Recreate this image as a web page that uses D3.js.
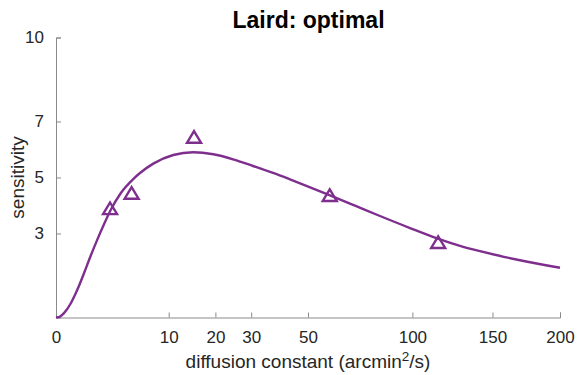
<!DOCTYPE html>
<html>
<head>
<meta charset="utf-8">
<script src="https://cdn.jsdelivr.net/npm/d3@7"></script>
<style>
  body { margin: 0; background: #fff; }
  text { font-family: "Liberation Sans", Arial, Helvetica, sans-serif; }
</style>
</head>
<body>
<div id="chart"></div>
<script>
// fitted curve
const curveX = [0, 0.0126, 0.05, 0.17, 0.357, 0.617, 0.948, 1.343, 1.814, 2.356, 3.296, 4.79, 5.556, 7.454, 10.83, 14.84, 19.48, 24.67, 30.56, 37.08, 43.11, 49.6, 59.11, 70.39, 82.65, 98.67, 114.3, 128.5, 141.5, 169.5, 200];
const curveY = [0, 0.032, 0.154, 0.5, 0.989, 1.579, 2.204, 2.782, 3.332, 3.839, 4.439, 4.971, 5.161, 5.496, 5.804, 5.9, 5.829, 5.65, 5.411, 5.161, 4.932, 4.696, 4.364, 3.996, 3.625, 3.196, 2.829, 2.561, 2.368, 2.046, 1.775];
// measured points
const pointX = [2.3, 4.5, 15, 59, 115];
const pointY = [3.9, 4.45, 6.45, 4.37, 2.69];
// ticks
const xTicks = [0, 10, 20, 30, 50, 100, 150, 200];
const yTicks = [3, 5, 7, 10];

const W = 579, H = 375;
const purple = "#7e2f8e";
const axisCol = "#8a8a8a";
const textCol = "#262626";

const svg = d3.select("#chart").append("svg")
   .attr("width", W).attr("height", H);

// scales
const x = d3.scaleSqrt().domain([0, 200]).range([56, 560]);
const y = d3.scaleLinear().domain([0, 10]).range([317.5, 37.5]);

// x axis (ticks inward)
const xAxis = d3.axisBottom(x).tickValues(xTicks).tickSize(-5).tickPadding(0).tickFormat(d3.format("d"));
const gx = svg.append("g")
   .attr("transform", "translate(0," + y(0) + ")")
   .call(xAxis);
gx.select(".domain").attr("stroke", axisCol);
gx.selectAll(".tick line").attr("stroke", axisCol);
gx.selectAll(".tick text")
   .attr("fill", textCol)
   .attr("font-size", 17)
   .attr("dy", null)
   .attr("y", 25.5);

// y axis (ticks inward)
const yAxis = d3.axisLeft(y).tickValues(yTicks).tickSize(-5).tickPadding(12);
const gy = svg.append("g")
   .attr("transform", "translate(" + x(0) + ",0)")
   .call(yAxis);
gy.select(".domain").attr("stroke", axisCol);
gy.selectAll(".tick line").attr("stroke", axisCol);
gy.selectAll(".tick text")
   .attr("fill", textCol)
   .attr("font-size", 17);

// fitted curve
const curveData = curveX.map((d, i) => [d, curveY[i]]);
const line = d3.line()
   .x(d => x(d[0]))
   .y(d => y(d[1]))
   .curve(d3.curveMonotoneX);
svg.append("path")
   .datum(curveData)
   .attr("d", line)
   .attr("fill", "none")
   .attr("stroke", purple)
   .attr("stroke-width", 2.4);

// triangle markers
const tri = "M0,-5.8L7,5.8L-7,5.8Z";
svg.selectAll(".pt")
   .data(pointX.map((d, i) => [d, pointY[i]]))
   .enter()
   .append("path")
   .attr("class", "pt")
   .attr("transform", d => "translate(" + x(d[0]) + "," + y(d[1]) + ")")
   .attr("d", tri)
   .attr("fill", "none")
   .attr("stroke", purple)
   .attr("stroke-width", 2.4);

// title
svg.append("text")
   .attr("x", 308.5).attr("y", 28.3)
   .attr("text-anchor", "middle")
   .attr("font-size", 23)
   .attr("font-weight", "bold")
   .attr("fill", "#000")
   .text("Laird: optimal");

// x label
const xl = svg.append("text")
   .attr("x", 308).attr("y", 367.5)
   .attr("text-anchor", "middle")
   .attr("font-size", 19)
   .attr("fill", textCol);
xl.append("tspan").text("diffusion constant (arcmin");
xl.append("tspan").attr("font-size", 13.5).attr("dy", -7).text("2");
xl.append("tspan").attr("dy", 7).text("/s)");

// y label
svg.append("text")
   .attr("transform", "translate(24,177.5) rotate(-90)")
   .attr("text-anchor", "middle")
   .attr("font-size", 19)
   .attr("fill", textCol)
   .text("sensitivity");
</script>
</body>
</html>
